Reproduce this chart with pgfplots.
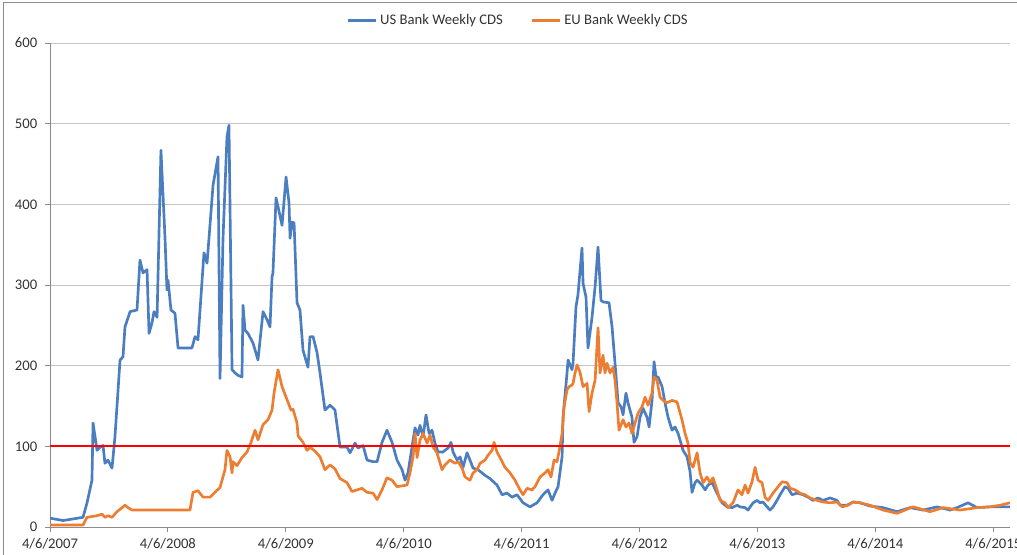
\documentclass[border=0pt]{standalone}
\usepackage{fontspec}
\setmainfont{Carlito}
\usepackage{pgfplots}
\usepackage{pgfplotstable}
\pgfplotsset{compat=1.18}

\definecolor{usblue}{RGB}{74,126,193}
\definecolor{euorange}{RGB}{237,125,49}
\definecolor{gridgray}{RGB}{196,196,196}
\definecolor{axisgray}{RGB}{140,140,140}

% t = years since 4/6/2007, cds = spread in bp
\pgfplotstableread{
t cds
0.000 11
0.110 8
0.280 12
0.314 30
0.356 58
0.365 129
0.399 95
0.424 99
0.450 101
0.466 79
0.492 83
0.526 73
0.551 112
0.594 207
0.619 211
0.636 248
0.679 267
0.738 269
0.763 331
0.789 315
0.823 319
0.840 240
0.865 253
0.882 267
0.908 260
0.941 467
0.975 360
0.992 294
1.001 306
1.026 269
1.060 265
1.086 222
1.204 222
1.230 236
1.255 232
1.306 340
1.332 327
1.383 424
1.425 459
1.442 184
1.467 356
1.501 484
1.518 498
1.544 195
1.569 191
1.595 188
1.628 186
1.637 275
1.654 244
1.679 240
1.722 228
1.764 207
1.807 267
1.841 257
1.866 248
1.883 310
1.891 315
1.917 408
1.934 397
1.968 374
2.002 434
2.027 402
2.036 358
2.053 378
2.070 377
2.095 278
2.120 269
2.146 219
2.188 198
2.205 236
2.231 236
2.265 216
2.290 191
2.332 145
2.375 151
2.417 145
2.460 99
2.519 99
2.545 92
2.587 104
2.612 98
2.655 101
2.689 83
2.740 81
2.774 81
2.816 105
2.858 120
2.901 105
2.943 83
2.986 71
3.011 58
3.036 67
3.070 99
3.096 123
3.121 114
3.138 126
3.164 112
3.189 139
3.215 116
3.240 120
3.265 104
3.291 93
3.333 93
3.376 98
3.401 105
3.418 93
3.452 83
3.478 87
3.503 74
3.537 92
3.562 83
3.588 73
3.630 71
3.664 67
3.690 64
3.732 60
3.791 52
3.834 40
3.876 42
3.919 37
3.961 40
4.012 30
4.071 25
4.131 30
4.181 40
4.224 46
4.258 33
4.283 42
4.309 50
4.343 87
4.351 136
4.385 191
4.394 207
4.427 195
4.436 203
4.461 273
4.478 288
4.512 346
4.521 302
4.546 285
4.563 222
4.597 260
4.623 298
4.648 347
4.673 281
4.690 279
4.741 278
4.767 248
4.792 203
4.818 154
4.843 149
4.860 139
4.885 166
4.902 154
4.936 136
4.953 105
4.979 112
5.004 136
5.030 147
5.064 136
5.081 124
5.106 157
5.123 205
5.140 186
5.157 186
5.191 174
5.216 154
5.242 136
5.276 120
5.301 124
5.327 116
5.369 95
5.403 87
5.428 69
5.445 43
5.471 55
5.488 58
5.530 52
5.556 46
5.581 52
5.615 55
5.657 42
5.700 30
5.742 25
5.785 24
5.827 27
5.852 25
5.895 24
5.920 21
5.963 30
5.997 33
6.022 30
6.047 31
6.081 25
6.107 21
6.132 25
6.166 33
6.192 40
6.234 50
6.260 48
6.293 40
6.336 42
6.387 40
6.429 37
6.472 33
6.514 36
6.556 33
6.616 36
6.675 33
6.701 27
6.760 27
6.811 31
6.870 30
6.955 26
7.065 24
7.184 19
7.294 24
7.405 21
7.523 25
7.634 21
7.693 24
7.786 30
7.863 24
7.973 25
8.058 25
8.142 25
}\usdata

\pgfplotstableread{
t cds
0.000 2.5
0.280 2.5
0.314 12
0.399 14
0.441 16
0.466 12
0.492 14
0.526 12
0.568 19
0.611 24
0.636 27
0.662 24
0.696 21
1.187 21
1.213 43
1.255 45
1.298 37
1.357 37
1.399 43
1.442 49
1.484 71
1.501 95
1.527 87
1.544 67
1.552 81
1.586 76
1.628 86
1.671 93
1.705 105
1.739 120
1.764 108
1.807 127
1.849 133
1.883 145
1.900 166
1.934 195
1.968 174
2.002 161
2.044 145
2.061 146
2.095 129
2.104 113
2.146 105
2.180 95
2.205 99
2.248 94
2.290 87
2.332 71
2.375 77
2.417 72
2.460 60
2.519 55
2.561 44
2.604 46
2.646 48
2.689 43
2.740 42
2.774 34
2.816 46
2.858 61
2.901 58
2.943 50
3.028 52
3.053 67
3.079 87
3.096 116
3.113 86
3.138 108
3.164 116
3.198 104
3.223 114
3.249 99
3.282 92
3.325 71
3.350 77
3.393 83
3.435 79
3.461 81
3.495 73
3.520 62
3.562 58
3.588 67
3.622 71
3.647 79
3.690 83
3.715 89
3.749 95
3.766 105
3.791 93
3.817 86
3.859 74
3.902 67
3.944 58
3.986 46
4.012 40
4.046 48
4.088 46
4.114 50
4.156 62
4.198 67
4.224 71
4.249 62
4.275 83
4.300 81
4.317 93
4.343 116
4.360 149
4.385 170
4.402 174
4.427 176
4.436 178
4.453 191
4.470 201
4.495 192
4.521 174
4.555 178
4.572 143
4.597 166
4.623 182
4.648 247
4.665 191
4.690 213
4.707 191
4.724 203
4.750 191
4.775 198
4.792 182
4.809 154
4.826 120
4.860 133
4.885 124
4.911 129
4.936 116
4.962 129
4.987 141
5.021 149
5.047 161
5.072 151
5.106 166
5.123 186
5.148 182
5.174 161
5.199 157
5.233 154
5.276 157
5.318 155
5.360 133
5.386 116
5.411 104
5.428 80
5.454 74
5.488 92
5.513 67
5.539 55
5.572 62
5.598 55
5.623 61
5.657 46
5.683 33
5.725 30
5.751 24
5.793 30
5.835 46
5.869 40
5.895 52
5.920 42
5.954 56
5.980 74
6.005 58
6.039 55
6.064 37
6.090 33
6.132 42
6.175 50
6.209 56
6.251 55
6.277 48
6.319 46
6.361 42
6.404 40
6.446 36
6.506 33
6.556 31
6.616 30
6.675 31
6.718 25
6.769 27
6.811 31
6.870 30
6.955 27
7.065 21
7.184 17
7.320 25
7.464 19
7.574 24
7.718 21
7.863 24
7.973 25
8.058 27
8.142 30
}\eudata

\begin{document}
\begin{tikzpicture}
\begin{axis}[
  scale only axis,
  width=720pt, height=363pt,
  xmin=0, xmax=8.142, ymin=0, ymax=600,
  xtick={0,1,2,3,4,5,6,7,8},
  xticklabels={4/6/2007,4/6/2008,4/6/2009,4/6/2010,4/6/2011,4/6/2012,4/6/2013,4/6/2014,4/6/2015},
  ytick={0,100,200,300,400,500,600},
  ymajorgrids,
  major grid style={gridgray, line width=0.75pt},
  axis lines*=left,
  axis line style={axisgray, line width=0.75pt},
  tick style={axisgray, line width=0.75pt},
  tick align=outside,
  major tick length=4pt,
  ticklabel style={font=\fontsize{11}{13}\selectfont, text=black!80},
  /pgf/number format/assume math mode=true,
  yticklabel style={xshift=-2pt},
  xticklabel style={yshift=-1pt},
  legend columns=2,
  legend cell align=left,
  legend style={at={(0.488,1.047)}, anchor=center, draw=none, fill=none,
    font=\fontsize{11}{13}\selectfont, text=black!80,
    /tikz/every even column/.append style={column sep=19pt}},
  legend image code/.code={\draw[#1] (0pt,0pt) -- (21pt,0pt);},
  every axis plot/.append style={line width=2pt, line join=round, no markers},
]
\addplot[usblue] table[x=t, y=cds] {\usdata};
\addlegendentry{US Bank Weekly CDS}
\addplot[euorange] table[x=t, y=cds] {\eudata};
\addlegendentry{EU Bank Weekly CDS}
\addplot[red, line width=1.5pt, forget plot] coordinates {(0,100) (8.142,100)};
\end{axis}
\draw[axisgray, line width=0.75pt] (-34.5pt,-40pt) -- (-34.5pt,393pt) -- (740pt,393pt);
\pgfresetboundingbox
\useasboundingbox (-37.5pt,-20.25pt) rectangle (725.25pt,395.25pt);
\end{tikzpicture}
\end{document}
